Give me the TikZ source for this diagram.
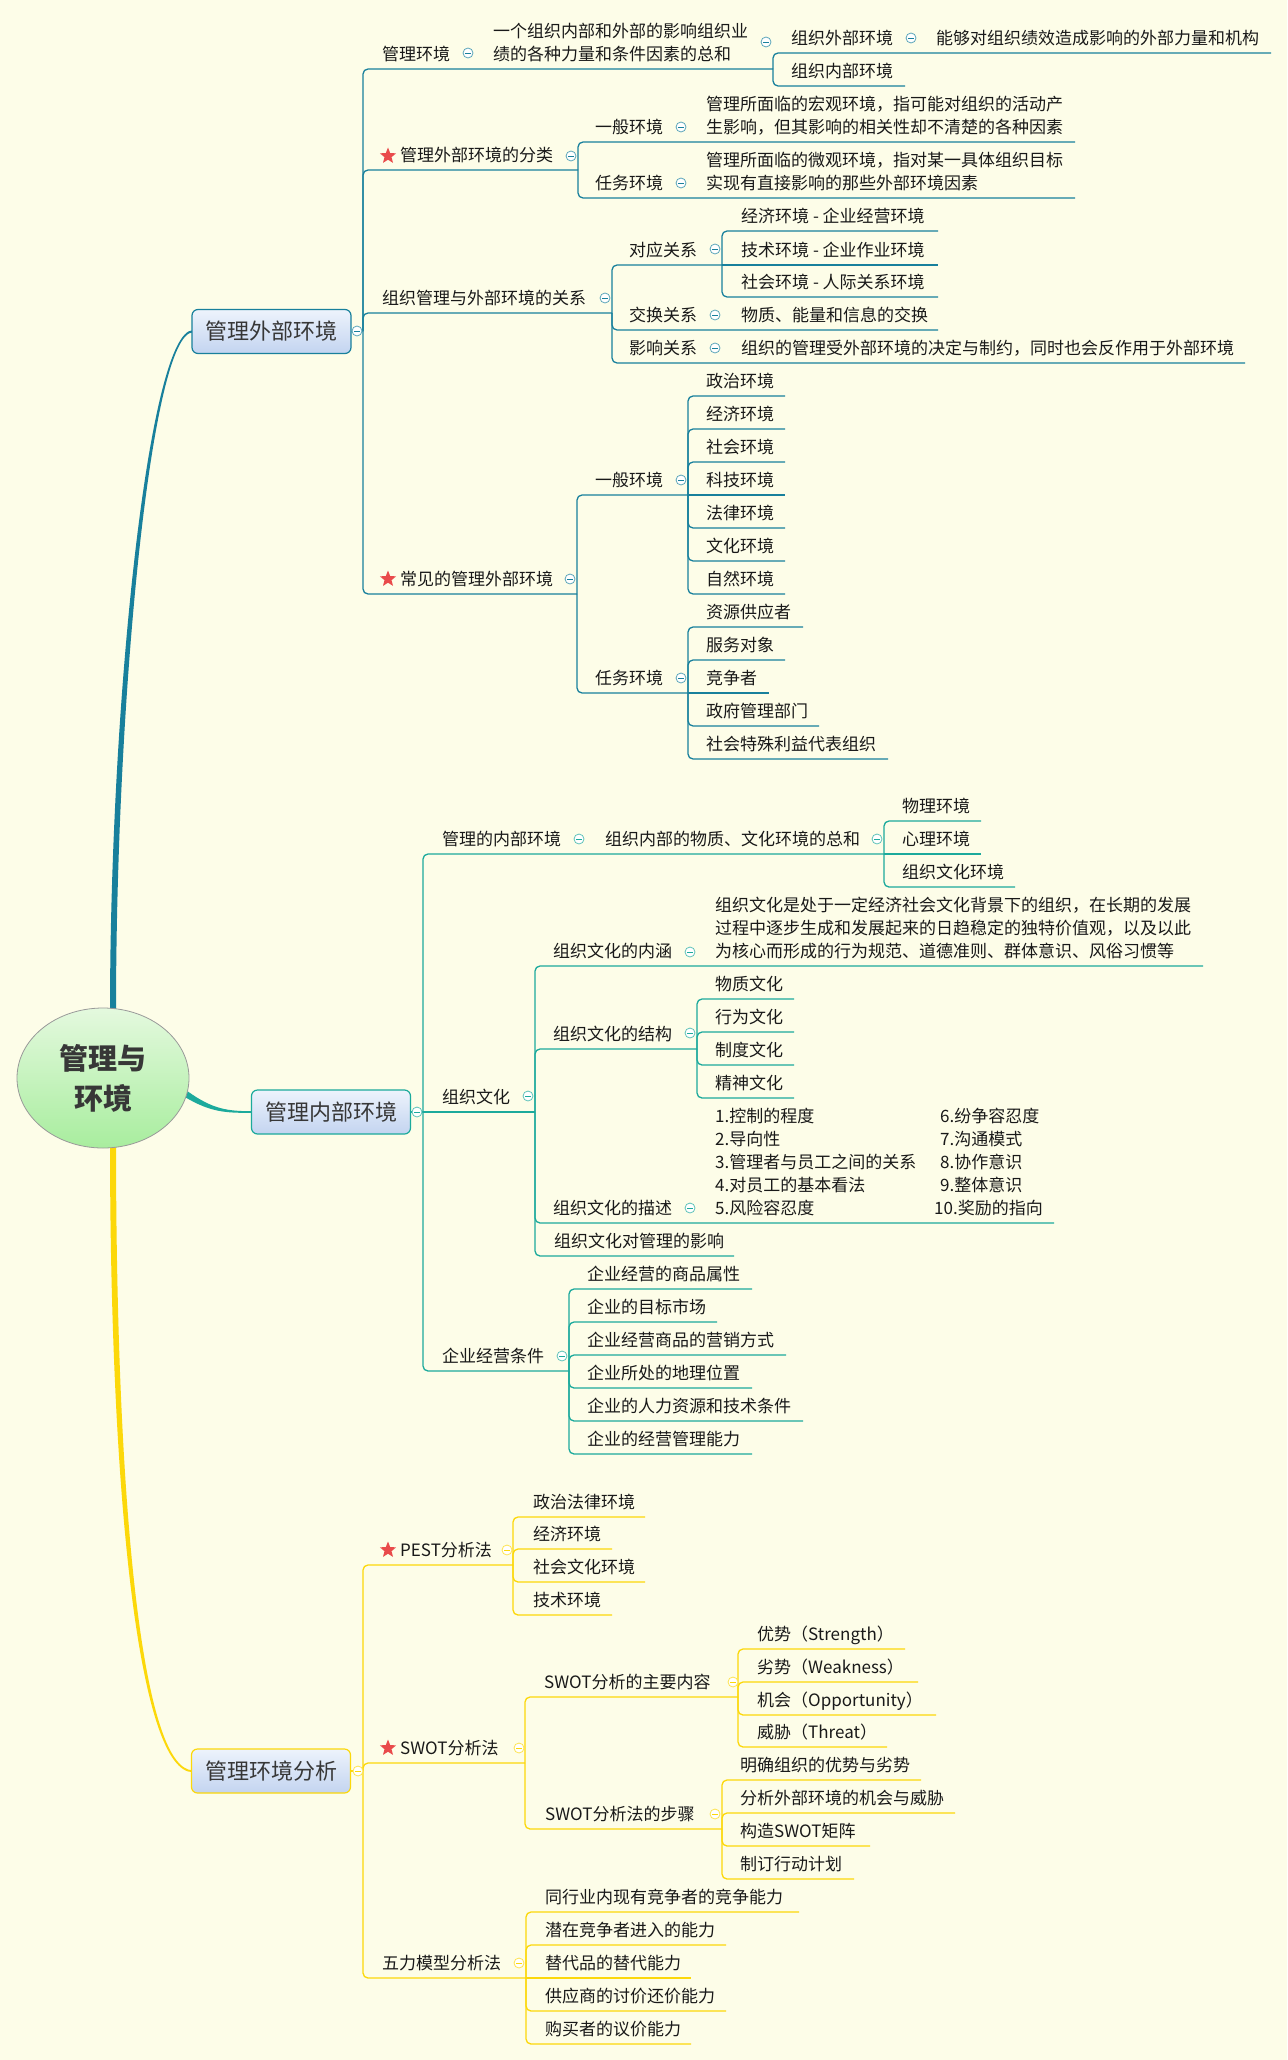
\documentclass[tikz,border=0pt]{standalone}
\usepackage{fontspec}
\setmainfont{Noto Sans CJK SC}
\usetikzlibrary{shapes.geometric}
\definecolor{bg}{RGB}{253,253,232}
\definecolor{cA}{RGB}{24,128,156}
\definecolor{cB}{RGB}{28,170,156}
\definecolor{cC}{RGB}{252,216,10}
\definecolor{ink}{RGB}{25,25,25}
\definecolor{boxink}{RGB}{55,55,55}
\definecolor{boxtop}{RGB}{237,243,252}
\definecolor{boxbot}{RGB}{195,212,240}
\definecolor{rtop}{RGB}{228,249,222}
\definecolor{rbot}{RGB}{168,237,158}
\definecolor{starred}{RGB}{233,75,75}
\newcommand\ml[1]{\begin{tabular}[b]{@{}l@{}}#1\end{tabular}}
\newcommand\kid[8]{%
  \coordinate (#2j) at (#3,#4);
  \coordinate (#2e) at (#6,#5);
  \ifdim #4pt=#5pt \draw[#1] (#2j) -- (#2e);\else \draw[#1] (#2j) |- (#2e);\fi
  \node[tx] (#2) at (#7,#5-8.5) {#8};}
\newcommand\val[4]{\node[tx] (#1) at (#2,#3-8.5) {#4};}
\newcommand\fold[4]{\node[fold=#1] (#2) at (#3,#4) {};}
\tikzset{
  tx/.style={anchor=base west, inner sep=0pt, text=ink},
  lA/.style={draw=cA, line width=1.3pt, rounded corners=5pt},
  lB/.style={draw=cB, line width=1.3pt, rounded corners=5pt},
  lC/.style={draw=cC, line width=1.3pt, rounded corners=5pt},
  fold/.style={circle, draw=#1!70, fill=white, minimum size=10pt, inner sep=0pt, line width=0.8pt,
    path picture={\draw[#1, line width=0.8pt] ([xshift=-2.6pt]path picture bounding box.center) -- ([xshift=2.6pt]path picture bounding box.center);}},
  mainbox/.style={draw=#1, line width=1.2pt, rounded corners=6pt, top color=boxtop, bottom color=boxbot,
    text=boxink, font=\fontsize{22}{26}\selectfont, minimum width=159pt, minimum height=44pt, inner sep=0pt},
  starmark/.style={star, star points=5, star point ratio=2.3, fill=starred, draw=none, minimum size=17pt, inner sep=0pt},
}
\begin{document}
\begin{tikzpicture}[x=1pt,y=-1pt,font=\fontsize{17}{23}\selectfont]
\useasboundingbox (0,0) rectangle (1287,2060);
\fill[bg] (0,0) rectangle (1287,2060);

% main tapered curves
\fill[cA] (110,1012) .. controls (110,700) and (149,330) .. (193,330.2)
  -- (193,332.3) .. controls (151,332.5) and (116,700) .. (116,1012) -- cycle;
\fill[cB] (187.8,1091.4) .. controls (213,1109.5) and (228,1111.2) .. (253,1111.2)
  -- (253,1112.8) .. controls (227,1113) and (211,1112.8) .. (184.2,1096.6) -- cycle;
\fill[cC] (110,1140) .. controls (110,1500) and (139,1772.5) .. (193,1772.2)
  -- (193,1770.4) .. controls (141,1769.5) and (116,1500) .. (116,1140) -- cycle;

\node[ellipse, minimum width=172pt, minimum height=140pt, draw=gray!80, line width=0.8pt,
  top color=rtop, bottom color=rbot, align=center, text=boxink,
  font=\fontsize{29}{40}\selectfont\bfseries] (root) at (103,1078) {管理与\\环境};

\node[mainbox=cA] (bA) at (271.5,331.5) {管理外部环境};
\node[mainbox=cB] (bB) at (331,1112) {管理内部环境};
\node[mainbox=cC] (bC) at (271,1771) {管理环境分析};
\coordinate (jA) at (363,331);
\coordinate (jB) at (423,1112);
\coordinate (jC) at (363,1771);
\draw[lA] (bA.east) -- (jA);
\draw[lB] (bB.east) -- (jB);
\draw[lC] (bC.east) -- (jC);

% ===== Branch A =====
\kid{lA}{a1}{363}{331}{69}{773}{382}{管理环境}
\val{a1v}{493}{69}{\ml{一个组织内部和外部的影响组织业\\绩的各种力量和条件因素的总和}}
\kid{lA}{a11}{773}{69}{53}{1271}{791}{组织外部环境}
\val{a11v}{936}{53}{能够对组织绩效造成影响的外部力量和机构}
\kid{lA}{a12}{773}{69}{86}{905}{791}{组织内部环境}

\kid{lA}{a2}{363}{331}{170}{578}{400}{管理外部环境的分类}
\kid{lA}{a21}{578}{170}{142}{1075}{595}{一般环境}
\val{a21v}{706}{142}{\ml{管理所面临的宏观环境，指可能对组织的活动产\\生影响，但其影响的相关性却不清楚的各种因素}}
\kid{lA}{a22}{578}{170}{198}{1075}{595}{任务环境}
\val{a22v}{706}{198}{\ml{管理所面临的微观环境，指对某一具体组织目标\\实现有直接影响的那些外部环境因素}}

\kid{lA}{a3}{363}{331}{313}{612}{382}{组织管理与外部环境的关系}
\kid{lA}{a31}{612}{313}{265}{722}{629}{对应关系}
\kid{lA}{a311}{722}{265}{231}{938}{741}{经济环境 - 企业经营环境}
\kid{lA}{a312}{722}{265}{265}{938}{741}{技术环境 - 企业作业环境}
\kid{lA}{a313}{722}{265}{297}{938}{741}{社会环境 - 人际关系环境}
\kid{lA}{a32}{612}{313}{330}{938}{629}{交换关系}
\val{a32v}{741}{330}{物质、能量和信息的交换}
\kid{lA}{a33}{612}{313}{363}{1245}{629}{影响关系}
\val{a33v}{741}{363}{组织的管理受外部环境的决定与制约，同时也会反作用于外部环境}

\kid{lA}{a4}{363}{331}{594}{577}{400}{常见的管理外部环境}
\kid{lA}{a41}{577}{594}{495}{688}{595}{一般环境}
\kid{lA}{a411}{688}{495}{396}{785}{706}{政治环境}
\kid{lA}{a412}{688}{495}{429}{785}{706}{经济环境}
\kid{lA}{a413}{688}{495}{462}{785}{706}{社会环境}
\kid{lA}{a414}{688}{495}{495}{785}{706}{科技环境}
\kid{lA}{a415}{688}{495}{528}{785}{706}{法律环境}
\kid{lA}{a416}{688}{495}{561}{785}{706}{文化环境}
\kid{lA}{a417}{688}{495}{594}{785}{706}{自然环境}
\kid{lA}{a42}{577}{594}{693}{688}{595}{任务环境}
\kid{lA}{a421}{688}{693}{627}{803}{706}{资源供应者}
\kid{lA}{a422}{688}{693}{660}{785}{706}{服务对象}
\kid{lA}{a423}{688}{693}{693}{769}{706}{竞争者}
\kid{lA}{a424}{688}{693}{726}{819}{706}{政府管理部门}
\kid{lA}{a425}{688}{693}{759}{888}{706}{社会特殊利益代表组织}

% ===== Branch B =====
\kid{lB}{b1}{423}{1112}{854}{884}{442}{管理的内部环境}
\val{b1v}{605}{854}{组织内部的物质、文化环境的总和}
\kid{lB}{b11}{884}{854}{821}{981}{902}{物理环境}
\kid{lB}{b12}{884}{854}{854}{981}{902}{心理环境}
\kid{lB}{b13}{884}{854}{887}{1015}{902}{组织文化环境}

\kid{lB}{b2}{423}{1112}{1112}{535}{442}{组织文化}
\kid{lB}{b21}{535}{1112}{966}{1203}{553}{组织文化的内涵}
\val{b21v}{715}{966}{\ml{组织文化是处于一定经济社会文化背景下的组织，在长期的发展\\过程中逐步生成和发展起来的日趋稳定的独特价值观，以及以此\\为核心而形成的行为规范、道德准则、群体意识、风俗习惯等}}
\kid{lB}{b22}{535}{1112}{1049}{697}{553}{组织文化的结构}
\kid{lB}{b221}{697}{1049}{999}{794}{715}{物质文化}
\kid{lB}{b222}{697}{1049}{1032}{794}{715}{行为文化}
\kid{lB}{b223}{697}{1049}{1065}{794}{715}{制度文化}
\kid{lB}{b224}{697}{1049}{1098}{794}{715}{精神文化}
\kid{lB}{b23}{535}{1112}{1223}{1054}{553}{组织文化的描述}
\val{b23v}{715}{1223}{\ml{\makebox[225pt][l]{1.控制的程度}6.纷争容忍度\\
  \makebox[225pt][l]{2.导向性}7.沟通模式\\
  \makebox[225pt][l]{3.管理者与员工之间的关系}8.协作意识\\
  \makebox[225pt][l]{4.对员工的基本看法}9.整体意识\\
  \makebox[219pt][l]{5.风险容忍度}10.奖励的指向}}
\kid{lB}{b24}{535}{1112}{1256}{734}{554}{组织文化对管理的影响}

\kid{lB}{b3}{423}{1112}{1371}{569}{442}{企业经营条件}
\kid{lB}{b31}{569}{1371}{1289}{752}{587}{企业经营的商品属性}
\kid{lB}{b32}{569}{1371}{1322}{717}{587}{企业的目标市场}
\kid{lB}{b33}{569}{1371}{1355}{786}{587}{企业经营商品的营销方式}
\kid{lB}{b34}{569}{1371}{1388}{752}{587}{企业所处的地理位置}
\kid{lB}{b35}{569}{1371}{1421}{803}{587}{企业的人力资源和技术条件}
\kid{lB}{b36}{569}{1371}{1454}{752}{587}{企业的经营管理能力}

% ===== Branch C =====
\kid{lC}{c1}{363}{1771}{1565}{513}{400}{PEST分析法}
\kid{lC}{c11}{513}{1565}{1517}{645}{533}{政治法律环境}
\kid{lC}{c12}{513}{1565}{1549}{612}{533}{经济环境}
\kid{lC}{c13}{513}{1565}{1582}{645}{533}{社会文化环境}
\kid{lC}{c14}{513}{1565}{1615}{612}{533}{技术环境}

\kid{lC}{c2}{363}{1771}{1763}{525}{400}{SWOT分析法}
\kid{lC}{c21}{525}{1763}{1697}{738}{544}{SWOT分析的主要内容}
\kid{lC}{c211}{738}{1697}{1649}{905}{757}{优势（Strength）}
\kid{lC}{c212}{738}{1697}{1682}{918}{757}{劣势（Weakness）}
\kid{lC}{c213}{738}{1697}{1715}{936}{757}{机会（Opportunity）}
\kid{lC}{c214}{738}{1697}{1747}{887}{757}{威胁（Threat）}
\kid{lC}{c22}{525}{1763}{1829}{722}{545}{SWOT分析法的步骤}
\kid{lC}{c221}{722}{1829}{1780}{921}{740}{明确组织的优势与劣势}
\kid{lC}{c222}{722}{1829}{1813}{955}{740}{分析外部环境的机会与威胁}
\kid{lC}{c223}{722}{1829}{1846}{870}{740}{构造SWOT矩阵}
\kid{lC}{c224}{722}{1829}{1879}{854}{740}{制订行动计划}

\kid{lC}{c3}{363}{1771}{1978}{526}{382}{五力模型分析法}
\kid{lC}{c31}{526}{1978}{1912}{799}{545}{同行业内现有竞争者的竞争能力}
\kid{lC}{c32}{526}{1978}{1945}{726}{545}{潜在竞争者进入的能力}
\kid{lC}{c33}{526}{1978}{1978}{691}{545}{替代品的替代能力}
\kid{lC}{c34}{526}{1978}{2011}{726}{545}{供应商的讨价还价能力}
\kid{lC}{c35}{526}{1978}{2044}{691}{545}{购买者的议价能力}

% ===== fold markers =====
\fold{cA}{fA}{357}{331}
\fold{cA}{fa1}{468}{53}
\fold{cA}{fa1v}{766}{42}
\fold{cA}{fa11}{911}{38}
\fold{cA}{fa2}{571}{156}
\fold{cA}{fa21}{681}{127}
\fold{cA}{fa22}{681}{183}
\fold{cA}{fa3}{605}{298}
\fold{cA}{fa31}{715}{249}
\fold{cA}{fa32}{715}{315}
\fold{cA}{fa33}{715}{348}
\fold{cA}{fa4}{570}{579}
\fold{cA}{fa41}{681}{480}
\fold{cA}{fa42}{681}{678}

\fold{cB}{fB}{417}{1112}
\fold{cB}{fb1}{579}{839}
\fold{cB}{fb1v}{877}{839}
\fold{cB}{fb2}{528}{1096}
\fold{cB}{fb21}{690}{952}
\fold{cB}{fb22}{690}{1033}
\fold{cB}{fb23}{690}{1208}
\fold{cB}{fb3}{562}{1356}

\fold{cC}{fC}{358}{1771}
\fold{cC}{fc1}{507}{1550}
\fold{cC}{fc2}{519}{1748}
\fold{cC}{fc21}{733}{1682}
\fold{cC}{fc22}{715}{1814}
\fold{cC}{fc3}{519}{1963}

% ===== stars =====
\node[starmark] (sa2) at (388,156) {};
\node[starmark] (sa4) at (388,579) {};
\node[starmark] (sc1) at (388,1550) {};
\node[starmark] (sc2) at (388,1748) {};
\end{tikzpicture}
\end{document}
